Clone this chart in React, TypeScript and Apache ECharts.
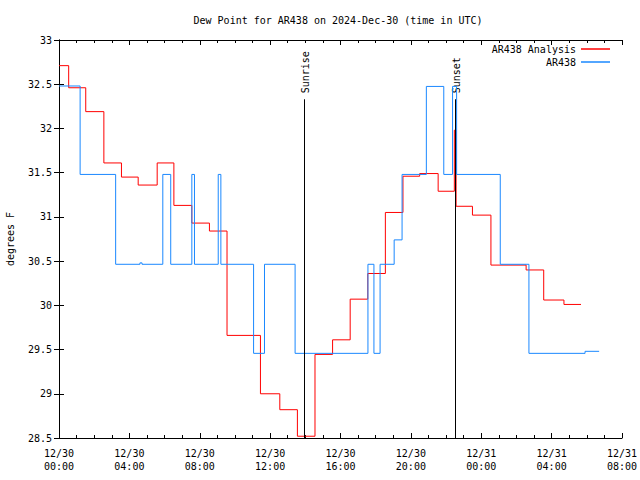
import React, { useEffect, useRef } from "react";
import * as echarts from "echarts";

// ---- data (time in hours since 2024-12-30 00:00 UTC) ----
const seriesNames = ["AR438 Analysis", "AR438"];

const analysisTimes = [0, 0.55, 1.52, 2.55, 3.55, 4.5, 5.58, 6.53, 7.55, 8.55, 9.55, 11.45, 12.55, 13.55, 14.55, 15.55, 16.55, 17.55, 18.55, 19.55, 20.5, 21.55, 22.47, 22.57, 23.5, 24.55, 26.55, 27.55, 28.7, 29.67];
const analysisValues = [32.71, 32.46, 32.19, 31.61, 31.45, 31.36, 31.61, 31.13, 30.93, 30.84, 29.66, 29.0, 28.82, 28.52, 29.445, 29.61, 30.07, 30.36, 31.05, 31.46, 31.49, 31.29, 31.98, 31.12, 31.02, 30.455, 30.4, 30.06, 30.01, 30.01];

const stationTimes = [0, 1.2, 3.22, 4.6, 4.72, 5.9, 6.35, 7.55, 7.7, 9.05, 9.2, 11.06, 11.68, 13.42, 17.56, 17.9, 18.25, 19.05, 19.5, 20.88, 21.87, 22.37, 22.6, 25.08, 26.71, 29.9, 30.7];
const stationValues = [32.48, 31.48, 30.464, 30.48, 30.464, 31.48, 30.464, 31.48, 30.464, 31.48, 30.464, 29.457, 30.464, 29.457, 30.464, 29.457, 30.464, 30.74, 31.48, 32.475, 31.48, 32.475, 31.48, 30.464, 29.457, 29.48, 29.48];

const sunEventNames = ["Sunrise", "Sunset"];
const sunEventTimes = [13.93, 22.53];
const sunLineTop = 32.33;

const dayLabels = ["12/30", "12/31"];
const xMin = 0;
const xMax = 32;
const xStep = 4;
const yMin = 28.5;
const yMax = 33;
const yStep = 0.5;

const chartTitle = "Dew Point for AR438 on 2024-Dec-30 (time in UTC)";
const yAxisName = "degrees F";

const FONT = "DejaVu Sans Mono";
const RED = "#ff0000";
const BLUE = "#1a88ff";

function fmtX(v: number): string {
  const d = Math.floor(v / 24);
  const h = Math.round(v % 24);
  return `${dayLabels[d]}\n${String(h).padStart(2, "0")}:00`;
}

function zip(ts: number[], vs: number[]) {
  return ts.map((t, i) => [t, vs[i]]);
}

export default function App() {
  const ref = useRef<HTMLDivElement>(null);
  useEffect(() => {
    if (!ref.current) return;
    const chart = echarts.init(ref.current, undefined, { renderer: "svg" });
    const axisLine = { show: true, lineStyle: { color: "#000", width: 1 } };
    const xCommon = {
      type: "value" as const,
      min: xMin,
      max: xMax,
      interval: xStep,
      axisLine,
      axisTick: { show: true, inside: true, length: 5, lineStyle: { color: "#000" } },
      minorTick: { show: true, splitNumber: 4, length: 3, lineStyle: { color: "#000" } },
      splitLine: { show: false },
    };
    const yCommon = {
      type: "value" as const,
      min: yMin,
      max: yMax,
      interval: yStep,
      axisLine,
      axisTick: { show: true, inside: true, length: 5, lineStyle: { color: "#000" } },
      splitLine: { show: false },
    };
    const titleGraphic = {
      type: "text",
      x: 338,
      y: 20,
      style: { text: chartTitle, font: `10px '${FONT}'`, fill: "#000", textAlign: "center", textVerticalAlign: "middle" },
    };
    const legendCommon = {
      right: 25,
      align: "right",
      icon: "rect",
      itemWidth: 29,
      itemHeight: 1.5,
      itemGap: 0,
      textStyle: { fontFamily: FONT, fontSize: 10, color: "#000" },
    };
    chart.setOption({
      animation: false,
      backgroundColor: "#fff",
      textStyle: { fontFamily: FONT, fontSize: 10, color: "#000" },
      grid: { left: 59, right: 18, top: 40, bottom: 42, containLabel: false, outerBoundsMode: "none" },
      graphic: [titleGraphic],
      legend: [
        { ...legendCommon, data: [seriesNames[0]], top: 39 },
        { ...legendCommon, data: [seriesNames[1]], top: 52 },
      ],
      xAxis: [
        {
          ...xCommon,
          position: "bottom",
          axisLabel: { show: true, formatter: fmtX, fontFamily: FONT, fontSize: 10, color: "#000", lineHeight: 13, margin: 9 },
        },
        { ...xCommon, position: "top", axisLabel: { show: false } },
      ],
      yAxis: [
        {
          ...yCommon,
          position: "left",
          name: yAxisName,
          nameLocation: "middle",
          nameRotate: 90,
          nameGap: 44,
          nameTextStyle: { fontFamily: FONT, fontSize: 10, color: "#000" },
          axisLabel: { show: true, fontFamily: FONT, fontSize: 10, color: "#000", margin: 7 },
        },
        { ...yCommon, position: "right", axisLabel: { show: false } },
      ],
      series: [
        {
          name: seriesNames[0],
          type: "line",
          step: "end",
          symbol: "none",
          color: RED,
          lineStyle: { color: RED, width: 1 },
          data: zip(analysisTimes, analysisValues),
          markLine: {
            silent: true,
            symbol: "none",
            label: { show: false },
            lineStyle: { color: "#000", width: 1, type: "solid" },
            data: sunEventTimes.map((t) => [{ coord: [t, yMin] }, { coord: [t, sunLineTop] }]),
          },
        },
        {
          name: seriesNames[1],
          type: "line",
          step: "end",
          symbol: "none",
          color: BLUE,
          lineStyle: { color: BLUE, width: 1 },
          data: zip(stationTimes, stationValues),
        },
      ],
    });
    const labels = sunEventTimes.map((t, i) => {
      const p = chart.convertToPixel({ xAxisIndex: 0, yAxisIndex: 0 }, [t, sunLineTop]) as number[];
      return {
        type: "text",
        x: p[0] + 1,
        y: p[1] - 6,
        rotation: Math.PI / 2,
        style: { text: sunEventNames[i], font: `10px '${FONT}'`, fill: "#000", textAlign: "left", textVerticalAlign: "middle" },
      };
    });
    chart.setOption({ graphic: [titleGraphic, ...labels] });
    return () => chart.dispose();
  }, []);
  return <div ref={ref} style={{ width: 640, height: 480, position: "absolute", left: 0, top: 0 }} />;
}
